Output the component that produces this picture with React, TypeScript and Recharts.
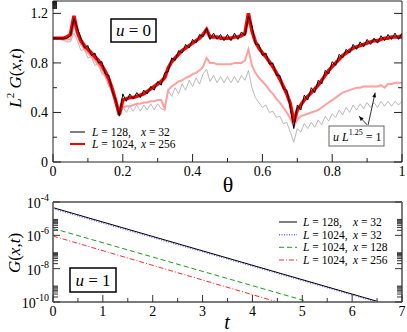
import React from 'react';
import { LineChart, Line, XAxis, YAxis, ReferenceLine } from 'recharts';

const FONT = '"Times New Roman", Tinos, serif';

// ---------- top panel (u = 0) ----------
const theta = [
  0, 0.01, 0.02, 0.03, 0.04, 0.05, 0.06, 0.07, 0.08, 0.09,
  0.1, 0.11, 0.12, 0.13, 0.14, 0.15, 0.16, 0.17, 0.18, 0.19,
  0.2, 0.21, 0.22, 0.23, 0.24, 0.25, 0.26, 0.27, 0.28, 0.29,
  0.3, 0.31, 0.32, 0.33, 0.34, 0.35, 0.36, 0.37, 0.38, 0.39,
  0.4, 0.41, 0.42, 0.43, 0.44, 0.45, 0.46, 0.47, 0.48, 0.49,
  0.5, 0.51, 0.52, 0.53, 0.54, 0.55, 0.56, 0.57, 0.58, 0.59,
  0.6, 0.61, 0.62, 0.63, 0.64, 0.65, 0.66, 0.67, 0.68, 0.69,
  0.7, 0.71, 0.72, 0.73, 0.74, 0.75, 0.76, 0.77, 0.78, 0.79,
  0.8, 0.81, 0.82, 0.83, 0.84, 0.85, 0.86, 0.87, 0.88, 0.89,
  0.9, 0.91, 0.92, 0.93, 0.94, 0.95, 0.96, 0.97, 0.98, 0.99,
  1,
];

// L = 128, x = 32 (black)
const gL128 = [
  1.0, 1.0, 1.0, 1.0, 1.0, 1.02, 1.16, 1.08, 1.0, 0.92,
  0.94, 0.86, 0.88, 0.8, 0.81, 0.71, 0.7, 0.57, 0.5, 0.37,
  0.55, 0.49, 0.55, 0.51, 0.56, 0.52, 0.58, 0.55, 0.61, 0.58,
  0.65, 0.62, 0.72, 0.73, 0.84, 0.82, 0.9, 0.88, 0.95, 0.92,
  0.99, 0.96, 1.03, 1.01, 1.08, 0.99, 1.04, 0.99, 1.03, 0.98,
  1.03, 0.98, 1.04, 0.99, 1.05, 1.02, 1.18, 1.1, 0.95, 0.95,
  0.86, 0.88, 0.79, 0.8, 0.7, 0.7, 0.59, 0.58, 0.44, 0.27,
  0.46, 0.42, 0.54, 0.5, 0.6, 0.56, 0.66, 0.63, 0.74, 0.71,
  0.81, 0.78, 0.87, 0.84, 0.91, 0.88, 0.95, 0.91, 0.97, 0.93,
  0.99, 0.95, 1.0, 0.96, 1.02, 0.98, 1.03, 0.99, 1.04, 0.99,
  1.04,
];

// L = 1024, x = 256 (red)
const gL1024 = [
  1.0, 1.0, 1.0, 1.0, 1.01, 1.03, 1.18, 1.05, 0.98, 0.94,
  0.91, 0.88, 0.85, 0.82, 0.78, 0.73, 0.67, 0.59, 0.49, 0.38,
  0.5, 0.51, 0.52, 0.52, 0.53, 0.54, 0.55, 0.57, 0.59, 0.61,
  0.63, 0.65, 0.68, 0.76, 0.81, 0.84, 0.87, 0.9, 0.92, 0.94,
  0.96, 0.98, 1.0, 1.03, 1.07, 1.01, 1.01, 1.01, 1.0, 1.0,
  1.0, 1.0, 1.01, 1.01, 1.02, 1.04, 1.2, 1.06, 0.97, 0.92,
  0.88, 0.85, 0.81, 0.77, 0.72, 0.67, 0.61, 0.55, 0.47, 0.32,
  0.42, 0.46, 0.5, 0.53, 0.56, 0.59, 0.62, 0.66, 0.7, 0.74,
  0.77, 0.8, 0.83, 0.86, 0.88, 0.9, 0.92, 0.93, 0.94, 0.95,
  0.96, 0.97, 0.98, 0.98, 0.99, 1.0, 1.0, 1.01, 1.01, 1.01,
  1.02,
];

// u L^1.25 = 1, L = 1024 (light red)
const gL1024u = [
  1.0, 1.0, 1.0, 0.99, 0.99, 0.99, 1.12, 1.02, 0.95, 0.91,
  0.88, 0.85, 0.82, 0.78, 0.74, 0.69, 0.63, 0.56, 0.47, 0.39,
  0.44, 0.45, 0.45, 0.46, 0.47, 0.47, 0.48, 0.48, 0.49, 0.49,
  0.5, 0.5, 0.43, 0.58, 0.61, 0.63, 0.65, 0.66, 0.68, 0.69,
  0.71, 0.72, 0.74, 0.77, 0.84, 0.8, 0.8, 0.79, 0.79, 0.79,
  0.79, 0.79, 0.8, 0.8, 0.8, 0.82, 0.91, 0.78, 0.72, 0.68,
  0.65, 0.62, 0.58, 0.55, 0.51, 0.48, 0.44, 0.4, 0.35, 0.29,
  0.34, 0.37, 0.38, 0.39, 0.4, 0.41, 0.42, 0.44, 0.46, 0.48,
  0.5, 0.52, 0.54, 0.56, 0.57, 0.58, 0.59, 0.6, 0.6, 0.61,
  0.61, 0.61, 0.61, 0.61, 0.62, 0.6, 0.63, 0.63, 0.64, 0.64,
  0.64,
];

// u L^1.25 = 1, L = 128 (gray)
const gL128u = [
  1.0, 1.0, 0.99, 0.98, 0.97, 0.97, 1.04, 0.98, 0.9, 0.91,
  0.84, 0.85, 0.78, 0.79, 0.71, 0.7, 0.61, 0.57, 0.46, 0.38,
  0.45, 0.4, 0.45, 0.41, 0.46, 0.41, 0.46, 0.42, 0.47, 0.42,
  0.47, 0.43, 0.42, 0.58, 0.53, 0.6, 0.55, 0.63, 0.58, 0.66,
  0.61, 0.68, 0.63, 0.71, 0.75, 0.65, 0.7, 0.64, 0.69, 0.64,
  0.69, 0.64, 0.69, 0.64, 0.7, 0.66, 0.74, 0.6, 0.52, 0.48,
  0.44, 0.46, 0.4, 0.41, 0.36, 0.37, 0.31, 0.32, 0.24, 0.16,
  0.27, 0.24, 0.31, 0.27, 0.32, 0.28, 0.34, 0.3, 0.37, 0.33,
  0.39, 0.36, 0.42, 0.38, 0.44, 0.4, 0.46, 0.42, 0.47, 0.43,
  0.48, 0.44, 0.48, 0.44, 0.49, 0.45, 0.49, 0.45, 0.49, 0.46,
  0.49,
];

const thetaTicks = [0, 0.1, 0.2, 0.3, 0.4, 0.5, 0.6, 0.7, 0.8, 0.9, 1];
const topYTicks = [0, 0.2, 0.4, 0.6, 0.8, 1.0, 1.2];

// annotation arrows (data coordinates: theta, value)
const arrowStart = [{ x: 0.903, y: 0.3 }, { x: 0.9, y: 0.3 }];
const arrowEnd = [{ x: 0.923, y: 0.56 }, { x: 0.877, y: 0.37 }];

// ---------- bottom panel (u = 1) ----------
const tBlack = [0, 6.55];
const gBlack = [4.6e-5, 1e-10];
const tBlue = [0, 6.5];
const gBlue = [4.0e-5, 1e-10];
const tGreen = [0, 5.14];
const gGreen = [2.6e-6, 1e-10];
const tRed = [0, 4.5];
const gRed = [9.1e-7, 1e-10];

const tTicks = [0, 0.5, 1, 1.5, 2, 2.5, 3, 3.5, 4, 4.5, 5, 5.5, 6, 6.5, 7];
const logMajor = [1e-4, 1e-6, 1e-8, 1e-10];
const logMinor = [
  2e-6, 3e-6, 4e-6, 5e-6, 6e-6, 7e-6, 8e-6, 9e-6,
  2e-8, 3e-8, 4e-8, 5e-8, 6e-8, 7e-8, 8e-8, 9e-8,
  2e-10, 3e-10, 4e-10, 5e-10, 6e-10, 7e-10, 8e-10, 9e-10,
];
const logTicks = [...logMajor, ...logMinor].sort((a, b) => a - b);

const topData = theta.map((t, i) => ({
  theta: t,
  black: gL128[i],
  red: gL1024[i],
  pink: gL1024u[i],
  gray: gL128u[i],
}));
const mk = (ts: number[], gs: number[]) => ts.map((t, i) => ({ t, g: gs[i] }));
const blackData = mk(tBlack, gBlack);
const blueData = mk(tBlue, gBlue);
const greenData = mk(tGreen, gGreen);
const redData = mk(tRed, gRed);

// ---------- tick renderers ----------
const isMajorTheta = (v: number) => Math.round(v * 10) % 2 === 0;
const fmtTheta = (v: number) => (v === 0 ? '0' : v === 1 ? '1' : v.toFixed(1));
const isMajorTopY = (v: number) => Math.round(v * 10) % 4 === 0;
const fmtTopY = (v: number) => (v === 0 ? '0' : v.toFixed(1));
const TOPC = '#222';
const BOTC = '#333';
const txt = { fontFamily: FONT };

const ThetaBottomTick = (p: any) => {
  const { x, y, payload } = p;
  const m = isMajorTheta(payload.value);
  return (
    <g>
      <line x1={x} x2={x} y1={y} y2={y - (m ? 8 : 4)} stroke={TOPC} />
      {m && (
        <text x={x} y={y + 14} textAnchor="middle" style={txt} fontSize={14} fill="#000">
          {fmtTheta(payload.value)}
        </text>
      )}
    </g>
  );
};
const ThetaTopTick = (p: any) => {
  const { x, y, payload } = p;
  const m = isMajorTheta(payload.value);
  return <line x1={x} x2={x} y1={y} y2={y + (m ? 8 : 4)} stroke={TOPC} />;
};
const TopYLeftTick = (p: any) => {
  const { x, y, payload } = p;
  const m = isMajorTopY(payload.value);
  return (
    <g>
      <line x1={x} x2={x + (m ? 8 : 4)} y1={y} y2={y} stroke={TOPC} />
      {m && (
        <text x={x - 5} y={y + 5} textAnchor="end" style={txt} fontSize={14} fill="#000">
          {fmtTopY(payload.value)}
        </text>
      )}
    </g>
  );
};
const TopYRightTick = (p: any) => {
  const { x, y, payload } = p;
  const m = isMajorTopY(payload.value);
  return <line x1={x} x2={x - (m ? 8 : 4)} y1={y} y2={y} stroke={TOPC} />;
};

const isInt = (v: number) => Math.abs(v - Math.round(v)) < 1e-9;
const TBottomTick = (p: any) => {
  const { x, y, payload } = p;
  const m = isInt(payload.value);
  return (
    <g>
      <line x1={x} x2={x} y1={y} y2={y - (m ? 7 : 4)} stroke={BOTC} />
      {m && (
        <text x={x} y={y + 14} textAnchor="middle" style={txt} fontSize={14} fill="#000">
          {String(payload.value)}
        </text>
      )}
    </g>
  );
};
const TTopTick = (p: any) => {
  const { x, y, payload } = p;
  const m = isInt(payload.value);
  return <line x1={x} x2={x} y1={y} y2={y + (m ? 7 : 4)} stroke={BOTC} />;
};
const isLogMajor = (v: number) => logMajor.some((m) => Math.abs(v / m - 1) < 1e-6);
const LogLeftTick = (p: any) => {
  const { x, y, payload } = p;
  const m = isLogMajor(payload.value);
  const e = Math.round(Math.log10(payload.value));
  return (
    <g>
      <line x1={x} x2={x + (m ? 7 : 5)} y1={y} y2={y} stroke={BOTC} />
      {m && (
        <text x={x - 4} y={y + 6} textAnchor="end" style={txt} fontSize={14} fill="#000">
          10
          <tspan dy={-7} fontSize={10}>
            {String(e)}
          </tspan>
        </text>
      )}
    </g>
  );
};
const LogRightTick = (p: any) => {
  const { x, y, payload } = p;
  const m = isLogMajor(payload.value);
  return <line x1={x} x2={x - (m ? 7 : 5)} y1={y} y2={y} stroke={BOTC} />;
};

const ArrowShape = (p: any) => {
  const { x1, y1, x2, y2 } = p;
  const ang = Math.atan2(y2 - y1, x2 - x1);
  const L = 5;
  const a1 = ang + Math.PI - 0.4;
  const a2 = ang + Math.PI + 0.4;
  return (
    <g>
      <line x1={x1} y1={y1} x2={x2} y2={y2} stroke="#000" strokeWidth={0.8} />
      <polygon
        points={`${x2},${y2} ${x2 + L * Math.cos(a1)},${y2 + L * Math.sin(a1)} ${x2 + L * Math.cos(a2)},${y2 + L * Math.sin(a2)}`}
        fill="#000"
      />
    </g>
  );
};

const it = { fontStyle: 'italic' as const };

const axisCommon = {
  interval: 0 as const,
  tickSize: 0,
  tickMargin: 0,
  tickLine: false,
  allowDataOverflow: true,
};

export default function App() {
  return (
    <div style={{ position: 'absolute', left: 0, top: 0, width: 407, height: 332, background: '#fff' }}>
      <div style={{ position: 'absolute', left: 0, top: 0 }}>
        <LineChart width={407} height={200} data={topData} margin={{ top: 0, right: 4, bottom: 37, left: 52 }}>
          <XAxis
            {...axisCommon}
            xAxisId={0}
            dataKey="theta"
            type="number"
            domain={[0, 1]}
            ticks={thetaTicks}
            height={1}
            tick={ThetaBottomTick}
            axisLine={{ stroke: TOPC }}
          />
          <XAxis
            {...axisCommon}
            xAxisId="top"
            orientation="top"
            type="number"
            domain={[0, 1]}
            ticks={thetaTicks}
            height={1}
            tick={ThetaTopTick}
            axisLine={{ stroke: TOPC }}
          />
          <YAxis
            {...axisCommon}
            yAxisId={0}
            type="number"
            domain={[0, 1.3]}
            ticks={topYTicks}
            width={1}
            tick={TopYLeftTick}
            axisLine={{ stroke: TOPC }}
          />
          <YAxis
            {...axisCommon}
            yAxisId="right"
            orientation="right"
            type="number"
            domain={[0, 1.3]}
            ticks={topYTicks}
            width={1}
            tick={TopYRightTick}
            axisLine={{ stroke: TOPC }}
          />
          <Line dataKey="gray" stroke="#a8a8a8" strokeWidth={0.8} dot={false} isAnimationActive={false} />
          <Line dataKey="pink" stroke="#ffa0a0" strokeWidth={2} dot={false} isAnimationActive={false} />
          <Line dataKey="red" stroke="#ff0000" strokeWidth={3.5} dot={false} isAnimationActive={false} />
          <Line dataKey="black" stroke="#000" strokeWidth={1} dot={false} isAnimationActive={false} />
          {arrowStart.map((s, i) => (
            <ReferenceLine key={i} segment={[s, arrowEnd[i]]} shape={ArrowShape} ifOverflow="visible" />
          ))}
        </LineChart>
      </div>

      <div style={{ position: 'absolute', left: 0, top: 180 }}>
        <LineChart width={407} height={152} margin={{ top: 21, right: 4, bottom: 29, left: 52 }}>
          <XAxis
            {...axisCommon}
            xAxisId={0}
            dataKey="t"
            type="number"
            domain={[0, 7]}
            ticks={tTicks}
            height={1}
            tick={TBottomTick}
            axisLine={{ stroke: '#7a7a7a', strokeWidth: 2 }}
          />
          <XAxis
            {...axisCommon}
            xAxisId="top"
            orientation="top"
            type="number"
            domain={[0, 7]}
            ticks={tTicks}
            height={1}
            tick={TTopTick}
            axisLine={{ stroke: '#7a7a7a', strokeWidth: 2 }}
          />
          <YAxis
            {...axisCommon}
            yAxisId={0}
            type="number"
            scale="log"
            domain={[1e-10, 1e-4]}
            ticks={logTicks}
            width={1}
            tick={LogLeftTick}
            axisLine={{ stroke: '#7a7a7a', strokeWidth: 2 }}
          />
          <YAxis
            {...axisCommon}
            yAxisId="right"
            orientation="right"
            type="number"
            scale="log"
            domain={[1e-10, 1e-4]}
            ticks={logTicks}
            width={1}
            tick={LogRightTick}
            axisLine={{ stroke: '#7a7a7a', strokeWidth: 2 }}
          />
          <Line data={redData} dataKey="g" stroke="#ff2a2a" strokeWidth={1} strokeDasharray="5 2 1 2" dot={false} isAnimationActive={false} />
          <Line data={greenData} dataKey="g" stroke="#1f9a1f" strokeWidth={1} strokeDasharray="5 3" dot={false} isAnimationActive={false} />
          <Line data={blueData} dataKey="g" stroke="#6b6bff" strokeWidth={1.5} strokeDasharray="1 1.5" dot={false} isAnimationActive={false} />
          <Line data={blackData} dataKey="g" stroke="#000" strokeWidth={1} dot={false} isAnimationActive={false} />
        </LineChart>
      </div>

      <svg
        width={407}
        height={332}
        style={{ position: 'absolute', left: 0, top: 0, pointerEvents: 'none', fontFamily: FONT }}
      >
        {/* top y label */}
        <text transform="translate(21,78) rotate(-90)" textAnchor="middle" fontSize={17} fill="#000">
          <tspan style={it}>L</tspan>
          <tspan dy={-7} fontSize={11}>2</tspan>
          <tspan dy={7}> </tspan>
          <tspan style={it}>G</tspan>
          <tspan>(</tspan>
          <tspan style={it}>x</tspan>
          <tspan>,</tspan>
          <tspan style={it}>t</tspan>
          <tspan>)</tspan>
        </text>
        {/* theta label */}
        <text x={228} y={192} textAnchor="middle" fontSize={22} fill="#000">θ</text>

        {/* u = 0 box */}
        <rect x={111} y={19} width={45} height={23} fill="#fff" stroke="#000" strokeWidth={1.5} />
        <text x={133.5} y={36} textAnchor="middle" fontSize={17} fill="#000">
          <tspan style={it}>u</tspan> = 0
        </text>

        {/* top legend */}
        <line x1={70} x2={85} y1={132} y2={132} stroke="#000" strokeWidth={1} />
        <text x={92} y={136} fontSize={11.5} fill="#000">
          <tspan style={it}>L</tspan> = 128,
        </text>
        <text x={141} y={136} fontSize={11.5} fill="#000">
          <tspan style={it}>x</tspan> = 32
        </text>
        <line x1={70} x2={85} y1={144} y2={144} stroke="#ff0000" strokeWidth={2} />
        <text x={92} y={148} fontSize={11.5} fill="#000">
          <tspan style={it}>L</tspan> = 1024,
        </text>
        <text x={141} y={148} fontSize={11.5} fill="#000">
          <tspan style={it}>x</tspan> = 256
        </text>

        {/* u L^1.25 = 1 box */}
        <rect x={329} y={126} width={55} height={20} fill="#fff" stroke="#666" strokeWidth={1} />
        <text x={333} y={141} fontSize={12} fill="#000">
          <tspan style={it}>u L</tspan>
          <tspan dy={-6} fontSize={8}>1.25</tspan>
          <tspan dy={6}> = 1</tspan>
        </text>

        {/* bottom y label */}
        <text transform="translate(20,253) rotate(-90)" textAnchor="middle" fontSize={17} fill="#000">
          <tspan style={it}>G</tspan>
          <tspan>(</tspan>
          <tspan style={it}>x</tspan>
          <tspan>,</tspan>
          <tspan style={it}>t</tspan>
          <tspan>)</tspan>
        </text>
        {/* t label */}
        <text x={227} y={329} textAnchor="middle" fontSize={20} fill="#000" style={it}>t</text>

        {/* u = 1 box */}
        <rect x={70} y={268} width={46} height={24} fill="#fff" stroke="#000" strokeWidth={1.5} />
        <text x={93} y={286} textAnchor="middle" fontSize={17} fill="#000">
          <tspan style={it}>u</tspan> = 1
        </text>

        {/* bottom legend */}
        <line x1={279} x2={297} y1={222} y2={222} stroke="#000" strokeWidth={1} />
        <text x={303} y={226} fontSize={11.5} fill="#000"><tspan style={it}>L</tspan> = 128,</text>
        <text x={353} y={226} fontSize={11.5} fill="#000"><tspan style={it}>x</tspan> = 32</text>

        <line x1={279} x2={297} y1={234.7} y2={234.7} stroke="#6b6bff" strokeWidth={1.5} strokeDasharray="1 1.5" />
        <text x={303} y={238.7} fontSize={11.5} fill="#000"><tspan style={it}>L</tspan> = 1024,</text>
        <text x={353} y={238.7} fontSize={11.5} fill="#000"><tspan style={it}>x</tspan> = 32</text>

        <line x1={279} x2={297} y1={247.3} y2={247.3} stroke="#1f9a1f" strokeWidth={1} strokeDasharray="5 3" />
        <text x={303} y={251.3} fontSize={11.5} fill="#000"><tspan style={it}>L</tspan> = 1024,</text>
        <text x={353} y={251.3} fontSize={11.5} fill="#000"><tspan style={it}>x</tspan> = 128</text>

        <line x1={279} x2={297} y1={260} y2={260} stroke="#ff2a2a" strokeWidth={1} strokeDasharray="5 2 1 2" />
        <text x={303} y={264} fontSize={11.5} fill="#000"><tspan style={it}>L</tspan> = 1024,</text>
        <text x={353} y={264} fontSize={11.5} fill="#000"><tspan style={it}>x</tspan> = 256</text>
      </svg>
    </div>
  );
}
